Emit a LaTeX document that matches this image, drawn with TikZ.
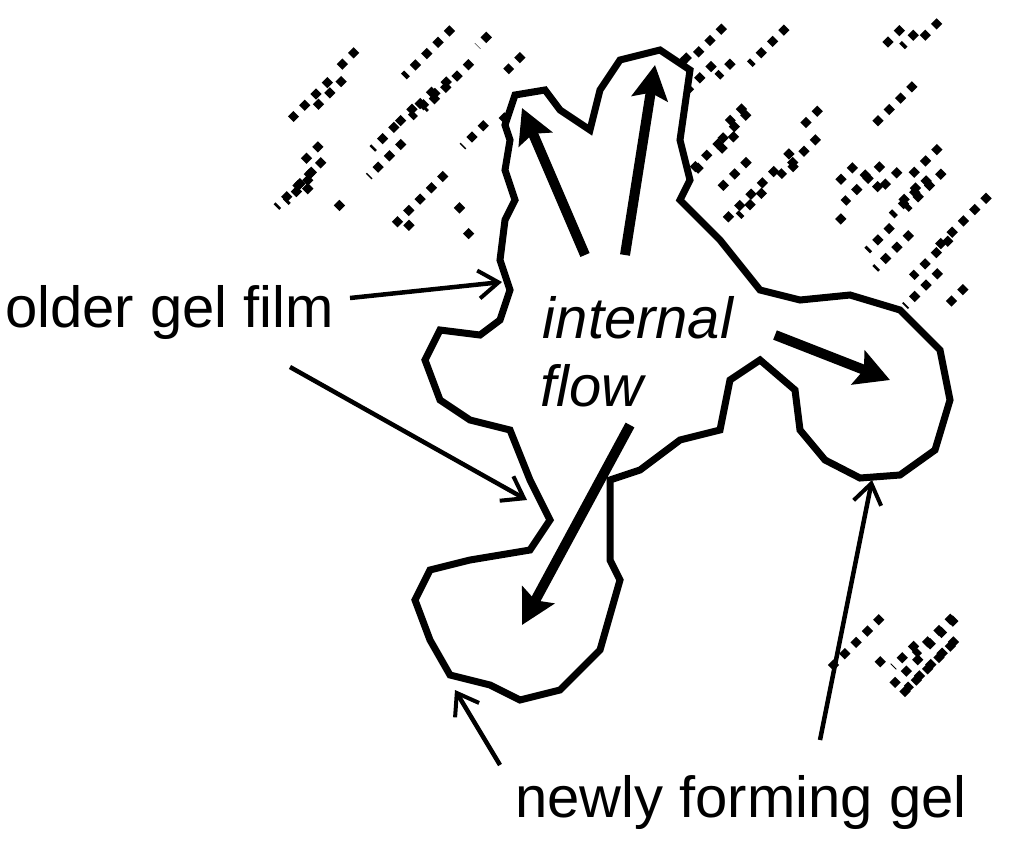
\documentclass[tikz,border=0pt]{standalone}
\usepackage{fontspec}
\setmainfont{Liberation Sans}
\usetikzlibrary{arrows.meta}
\begin{document}
\begin{tikzpicture}[x=1pt,y=-1pt,
  lbl/.style={font=\fontsize{58}{66}\selectfont,inner sep=0pt},
  thick arrow/.style={line width=10pt,-{Stealth[length=34pt,width=36pt,inset=6pt]}},
  thin arrow/.style={line width=4.5pt,-{Straight Barb[length=20pt,width=28pt,line width=4pt]}},
  pix/.style={line width=8pt,dash pattern=on 8pt off 8pt}]
\useasboundingbox (0,0) rectangle (1024,846);
\pgfmathsetseed{11}
\foreach \i in {1,...,45}{
  \pgfmathsetmacro\px{310+690*rnd}
  \pgfmathsetmacro\py{20+180*rnd}
  \pgfmathsetmacro\pl{8+50*rnd}
  \draw[pix] (\px,\py) -- ++(-\pl,\pl);
}
\foreach \i in {1,...,14}{
  \pgfmathsetmacro\px{300+700*rnd}
  \pgfmathsetmacro\py{150+90*rnd}
  \draw[pix] (\px,\py) -- ++(-8,8);
}
\foreach \i in {1,...,10}{
  \pgfmathsetmacro\px{860+130*rnd}
  \pgfmathsetmacro\py{160+130*rnd}
  \pgfmathsetmacro\pl{8+40*rnd}
  \draw[pix] (\px,\py) -- ++(-\pl,\pl);
}
\foreach \i in {1,...,8}{
  \pgfmathsetmacro\px{870+120*rnd}
  \pgfmathsetmacro\py{560+100*rnd}
  \pgfmathsetmacro\pl{8+50*rnd}
  \draw[pix] (\px,\py) -- ++(-\pl,\pl);
}
\draw[line width=7pt,fill=white] (505,125)--(515,95)--(545,90)--(560,110)--(590,130)--(600,90)--(620,60)--(660,50)--(690,70)--(680,140)--(690,180)--(680,200)--(720,240)--(760,290)--(800,300)--(850,295)--(900,310)--(940,350)--(950,400)--(935,450)--(900,475)--(860,478)--(825,460)--(800,430)--(795,390)--(760,360)--(730,380)--(720,430)--(680,440)--(640,470)--(610,480)--(610,560)--(620,580)--(600,650)--(560,690)--(520,700)--(490,685)--(450,675)--(430,640)--(415,600)--(430,570)--(470,560)--(530,550)--(550,520)--(530,480)--(510,430)--(470,420)--(440,400)--(425,360)--(440,330)--(480,335)--(500,320)--(510,290)--(500,260)--(505,220)--(515,200)--(505,170)--(510,140)--cycle;
\coordinate (a1s) at (585,255); \coordinate (a1e) at (522,108);
\coordinate (a2s) at (625,255); \coordinate (a2e) at (655,65);
\coordinate (a3s) at (775,335); \coordinate (a3e) at (890,380);
\coordinate (a4s) at (630,425); \coordinate (a4e) at (522,625);
\draw[thick arrow] (a1s) -- (a1e);
\draw[thick arrow] (a2s) -- (a2e);
\draw[thick arrow] (a3s) -- (a3e);
\draw[thick arrow] (a4s) -- (a4e);
\node[lbl,anchor=west] (old) at (5,312) {older gel film};
\node[lbl,font=\fontsize{58}{66}\selectfont\itshape] (int) at (638,318) {internal};
\node[lbl,font=\fontsize{58}{66}\selectfont\itshape] (flow) at (592,386) {flow};
\node[lbl,anchor=west] (new) at (515,802) {newly forming gel};
\coordinate (o1) at (350,298); \coordinate (o1e) at (502,282);
\coordinate (o2) at (290,367); \coordinate (o2e) at (527,500);
\coordinate (n1) at (500,765); \coordinate (n1e) at (455,690);
\coordinate (n2) at (820,740); \coordinate (n2e) at (872,480);
\draw[thin arrow] (o1) -- (o1e);
\draw[thin arrow] (o2) -- (o2e);
\draw[thin arrow] (n1) -- (n1e);
\draw[thin arrow] (n2) -- (n2e);
\end{tikzpicture}
\end{document}
